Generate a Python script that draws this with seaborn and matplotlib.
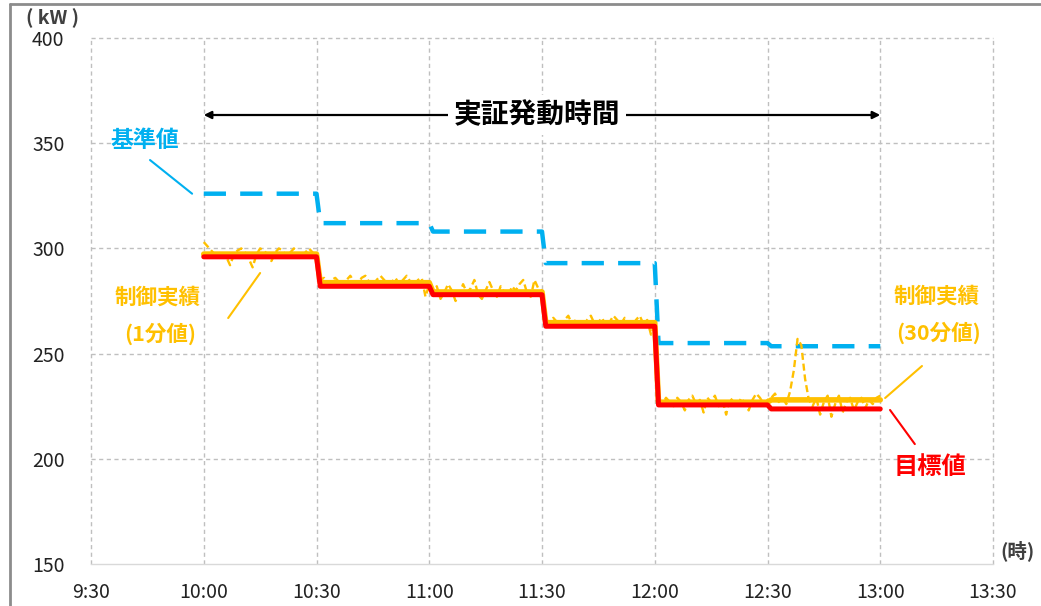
import numpy as np
import pandas as pd
import matplotlib
matplotlib.use("Agg")
import matplotlib.pyplot as plt
import seaborn as sns
from matplotlib.lines import Line2D

# ---------------- data ----------------
time_labels = ["9:30", "10:00", "10:30", "11:00", "11:30", "12:00", "12:30", "13:00", "13:30"]
y_ticks = [150, 200, 250, 300, 350, 400]

# 30-minute blocks from 10:00 to 13:00
baseline_kw = [326, 312, 308, 293, 255, 253.5]          # 基準値
target_kw = [296, 282, 278, 263, 225.6, 223.7]          # 目標値
actual_30min_kw = [297.3, 283.7, 279.3, 264.7, 226.9, 228.0]  # 制御実績(30分値)

# 1-minute actuals, 10:00 .. 13:00
actual_1min_kw = [
    303, 301, 299, 297, 298, 297, 296, 292, 297, 299, 300, 298, 295, 291, 297, 300,
    299, 297, 294, 298, 300, 299, 296, 298, 300, 297, 295, 298, 300, 298, 297,
    285, 286, 283, 285, 286, 284, 282, 285, 287, 284, 283, 286, 287, 284, 282, 285,
    287, 285, 283, 284, 286, 283, 285, 287, 284, 282, 285, 286, 277, 283,
    280, 282, 276, 279, 283, 280, 275, 278, 283, 279, 281, 285, 278, 276, 280, 284,
    280, 277, 282, 279, 277, 282, 280, 283, 285, 279, 277, 285, 281, 280,
    266, 264, 267, 265, 263, 266, 268, 264, 266, 265, 262, 266, 268, 264, 265, 267,
    263, 265, 268, 266, 264, 267, 265, 263, 266, 268, 264, 266, 259, 265,
    228, 226, 229, 227, 225, 229, 227, 223, 228, 230, 226, 228, 222, 229, 227, 230,
    225, 228, 221, 229, 227, 225, 229, 226, 223, 228, 231, 229, 226, 228,
    229, 231, 227, 229, 226, 232, 242, 257, 254, 238, 228, 225, 229, 221, 227, 230,
    220, 226, 230, 222, 227, 229, 223, 227, 229, 224, 228, 226, 229, 230,
]

START = 30   # 10:00 in minutes after 9:30
SEG = 30


def step_frame(vals):
    xs, ys = [], []
    for i, v in enumerate(vals):
        a = START + i * SEG + (1 if i > 0 else 0)
        b = START + (i + 1) * SEG
        xs += [a, b]
        ys += [v, v]
    return pd.DataFrame({"min": xs, "kw": ys})


df_base = step_frame(baseline_kw)
df_target = step_frame(target_kw)
df_30 = step_frame(actual_30min_kw)
df_1 = pd.DataFrame({"min": START + np.arange(len(actual_1min_kw)), "kw": actual_1min_kw})

# ---------------- style ----------------
sns.set_style("white")
plt.rcParams['font.family'] = ['Noto Sans CJK JP', 'DejaVu Sans']

BLUE = "#00b0f0"
ORANGE = "#ffc000"
RED = "#ff0000"
GRID = "#bfbfbf"
TXT = "#404040"

W, H = 1041, 606
fig = plt.figure(figsize=(W / 100, H / 100), dpi=100)
ax = fig.add_axes([91 / W, 1 - 564 / H, (993 - 91) / W, (564 - 38) / H])

# grid
ax.set_xlim(0, 240)
ax.set_ylim(150, 400)
ax.set_xticks(np.arange(0, 241, 30))
ax.set_xticklabels(time_labels)
ax.set_yticks(y_ticks)
for s in ["top", "left", "right"]:
    ax.spines[s].set_visible(False)
ax.spines["bottom"].set_color("#d9d9d9")
ax.spines["bottom"].set_linewidth(1.0)
for xv in np.arange(0, 241, 30):
    ax.axvline(xv, color=GRID, lw=1.0, ls=(0, (3, 2.5)), zorder=0, clip_on=False)
for yv in y_ticks[1:]:
    ax.axhline(yv, color=GRID, lw=1.0, ls=(0, (3, 2.5)), zorder=0, clip_on=False)
ax.tick_params(axis="both", length=0, labelsize=14, colors="#222222")
ax.tick_params(axis="y", pad=19)
ax.tick_params(axis="x", pad=13)

# series
sns.lineplot(data=df_base, x="min", y="kw", ax=ax, color=BLUE, linewidth=3.2,
             linestyle=(0, (5, 3.2)), estimator=None, sort=False, zorder=3)
sns.lineplot(data=df_1, x="min", y="kw", ax=ax, color=ORANGE, linewidth=1.7,
             linestyle=(0, (3, 1.6)), estimator=None, sort=False, zorder=4)
sns.lineplot(data=df_30, x="min", y="kw", ax=ax, color=ORANGE, linewidth=4.0,
             estimator=None, sort=False, zorder=5)
sns.lineplot(data=df_target, x="min", y="kw", ax=ax, color=RED, linewidth=3.6,
             estimator=None, sort=False, zorder=6)
ax.set_xlabel("")
ax.set_ylabel("")

# ---------------- annotations ----------------
# double arrow for 実証発動時間
ax.annotate("", xy=(START, 363.4), xytext=(START + 6 * SEG, 363.4),
            arrowprops=dict(arrowstyle="<|-|>", color="black", lw=1.6,
                            mutation_scale=11, shrinkA=0, shrinkB=0), zorder=7)
ax.text(118.7, 363.4, "実証発動時間", ha="center", va="center", fontsize=20,
        fontweight="bold", color="black", zorder=8,
        bbox=dict(facecolor="white", edgecolor="none", pad=4))

# 基準値
ax.text(14.4, 351.5, "基準値", ha="center", va="center", fontsize=16.5,
        fontweight="bold", color=BLUE)
ax.annotate("", xy=(26.9, baseline_kw[0]), xytext=(15.7, 342),
            arrowprops=dict(arrowstyle="-", color=BLUE, lw=1.5, shrinkA=0, shrinkB=0))

# 制御実績 (1分値)
ax.text(17.8, 277.0, "制御実績", ha="center", va="center", fontsize=15.5,
        fontweight="bold", color=ORANGE)
ax.text(18.4, 259.6, "(1分値)", ha="center", va="center", fontsize=15.5,
        fontweight="bold", color=ORANGE)
ax.annotate("", xy=(45, 288.3), xytext=(36.5, 266.9),
            arrowprops=dict(arrowstyle="-", color=ORANGE, lw=1.5, shrinkA=0, shrinkB=0))

# 制御実績 (30分値)
ax.text(225.1, 277.4, "制御実績", ha="center", va="center", fontsize=15.5,
        fontweight="bold", color=ORANGE, clip_on=False)
ax.text(225.4, 259.8, "(30分値)", ha="center", va="center", fontsize=15.5,
        fontweight="bold", color=ORANGE, clip_on=False)
ax.annotate("", xy=(221.1, 244.1), xytext=(211.3, 228.9), annotation_clip=False,
            arrowprops=dict(arrowstyle="-", color=ORANGE, lw=1.5, shrinkA=0, shrinkB=0))

# 目標値
ax.text(223.2, 196.0, "目標値", ha="center", va="center", fontsize=17.5,
        fontweight="bold", color=RED, clip_on=False)
ax.annotate("", xy=(219.2, 207.0), xytext=(212.6, 223.2), annotation_clip=False,
            arrowprops=dict(arrowstyle="-", color=RED, lw=1.5, shrinkA=0, shrinkB=0))

# axis unit labels
fig.text(52 / W, 1 - 18 / H, "( kW )", ha="center", va="center", fontsize=14,
         fontweight="bold", color=TXT)
fig.text(1000 / W, 1 - 551 / H, "(時)", ha="left", va="center", fontsize=14,
         fontweight="bold", color=TXT)

# figure frame (partial, as in the reference crop)
fig.add_artist(Line2D([10 / W, 10 / W], [-0.01, 1 - 4 / H], transform=fig.transFigure,
                      color="#8c8c8c", lw=2))
fig.add_artist(Line2D([10 / W, 1.01], [1 - 4 / H, 1 - 4 / H], transform=fig.transFigure,
                      color="#8c8c8c", lw=2))

fig.savefig("out.png", dpi=100)
